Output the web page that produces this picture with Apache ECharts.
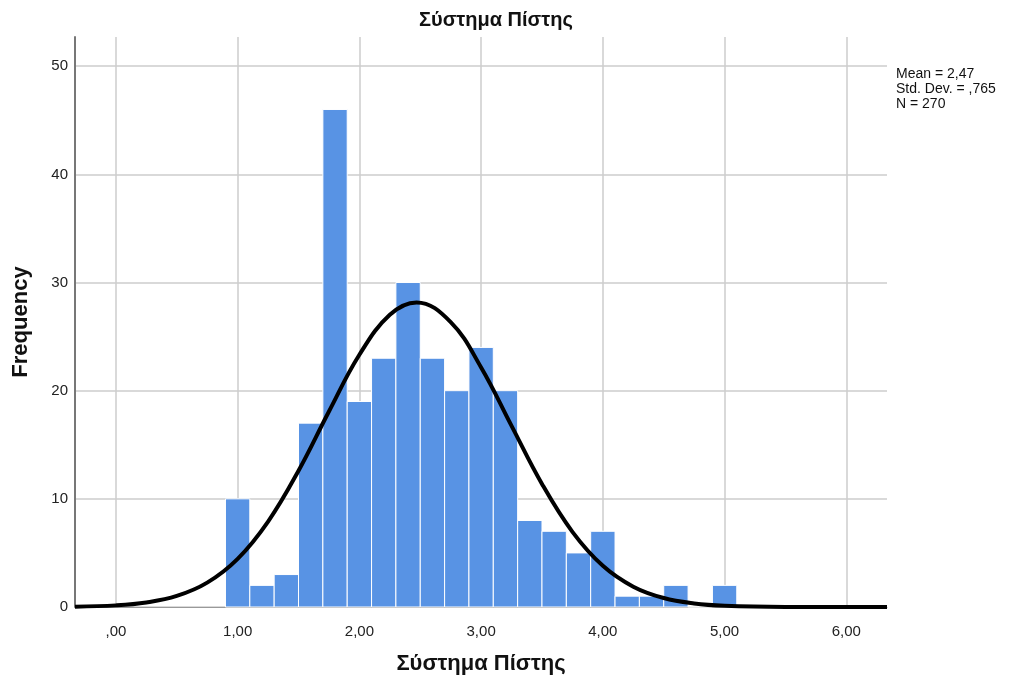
<!DOCTYPE html>
<html><head><meta charset="utf-8">
<script src="https://cdn.jsdelivr.net/npm/echarts@6/dist/echarts.min.js"></script>
<style>html,body{margin:0;padding:0;background:#fff}#c{width:1012px;height:684px}</style>
</head><body><div id="c"></div>
<script>
// Histogram bins (start of bin, width 0.2)
const binStarts = [0.9,1.1,1.3,1.5,1.7,1.9,2.1,2.3,2.5,2.7,2.9,3.1,3.3,3.5,3.7,3.9,4.1,4.3,4.5,4.7,4.9];
const frequencies = [10,2,3,17,46,19,23,30,23,20,24,20,8,7,5,7,1,1,2,0,2];
const binWidth = 0.2;
// Normal curve points
const curveX = [-0.336,0,0.25,0.5,0.75,1.0,1.25,1.5,1.75,2.0,2.25,2.47,2.75,3.0,3.25,3.5,3.75,4.0,4.25,4.5,4.75,5.0,5.5,6.0,6.334];
const curveY = [0.03,0.15,0.42,1.02,2.25,4.45,7.9,12.6,18.08,23.32,27.02,28.16,26.34,22.15,16.75,11.38,6.95,3.81,1.88,0.83,0.33,0.12,0.01,0,0];
const xTicks = [0,1,2,3,4,5,6];
const xTickLabels = [',00','1,00','2,00','3,00','4,00','5,00','6,00'];
const yTicks = [0,10,20,30,40,50];
const statsLines = ['Mean = 2,47','Std. Dev. = ,765','N = 270'];

const chart = echarts.init(document.getElementById('c'));
const font = '"Liberation Sans", Arial, sans-serif';
chart.setOption({
  animation:false,
  backgroundColor:'#fff',
  title:{text:'Σύστημα Πίστης',left:414,top:5,textStyle:{fontFamily:font,fontSize:20,fontWeight:'bold',color:'#111'}},
  grid:{left:75,right:125,top:37,bottom:77,containLabel:false,outerBoundsMode:'none'},
  graphic:[{type:'text',left:896,top:67,style:{text:statsLines.join('\n'),fontFamily:font,fontSize:14,lineHeight:15,fill:'#111'}}],
  xAxis:{type:'value',min:-0.336,max:6.334,
    name:'Σύστημα Πίστης',nameLocation:'middle',nameGap:46,
    nameTextStyle:{fontFamily:font,fontSize:22,fontWeight:'bold',color:'#111'},
    axisLine:{show:true,onZero:false,lineStyle:{color:'#999',width:1}},
    axisTick:{show:false,customValues:xTicks},
    axisLabel:{customValues:xTicks,formatter:(v)=>xTickLabels[xTicks.indexOf(Math.round(v))] ?? '',fontFamily:font,fontSize:15,color:'#222',margin:17},
    splitLine:{show:true,lineStyle:{color:'#ccc',width:1.5}}
  },
  yAxis:{type:'value',min:0,max:52.7,
    name:'Frequency',nameLocation:'middle',nameGap:43,
    nameTextStyle:{fontFamily:font,fontSize:22,fontWeight:'bold',color:'#111'},
    axisLine:{show:true,onZero:false,lineStyle:{color:'#777',width:2}},
    axisTick:{show:false,customValues:yTicks},
    axisLabel:{customValues:yTicks,fontFamily:font,fontSize:15,color:'#222',margin:7},
    splitLine:{show:true,lineStyle:{color:'#ccc',width:1.5}}
  },
  series:[
    {type:'custom',data:binStarts.map((s,i)=>[s,s+binWidth,frequencies[i]]),
     encode:{x:[0,1],y:2},
     renderItem:(params,api)=>{
       const p0=api.coord([api.value(0),api.value(2)]);
       const p1=api.coord([api.value(1),0]);
       return {type:'rect',shape:{x:p0[0],y:p0[1],width:p1[0]-p0[0],height:p1[1]-p0[1]},
         style:{fill:'#5893E4',stroke:'#fff',lineWidth:1}};
     },z:2},
    {type:'line',data:curveX.map((x,i)=>[x,curveY[i]]),smooth:0.4,symbol:'none',
     lineStyle:{color:'#000',width:4},z:3}
  ]
});
</script></body></html>
